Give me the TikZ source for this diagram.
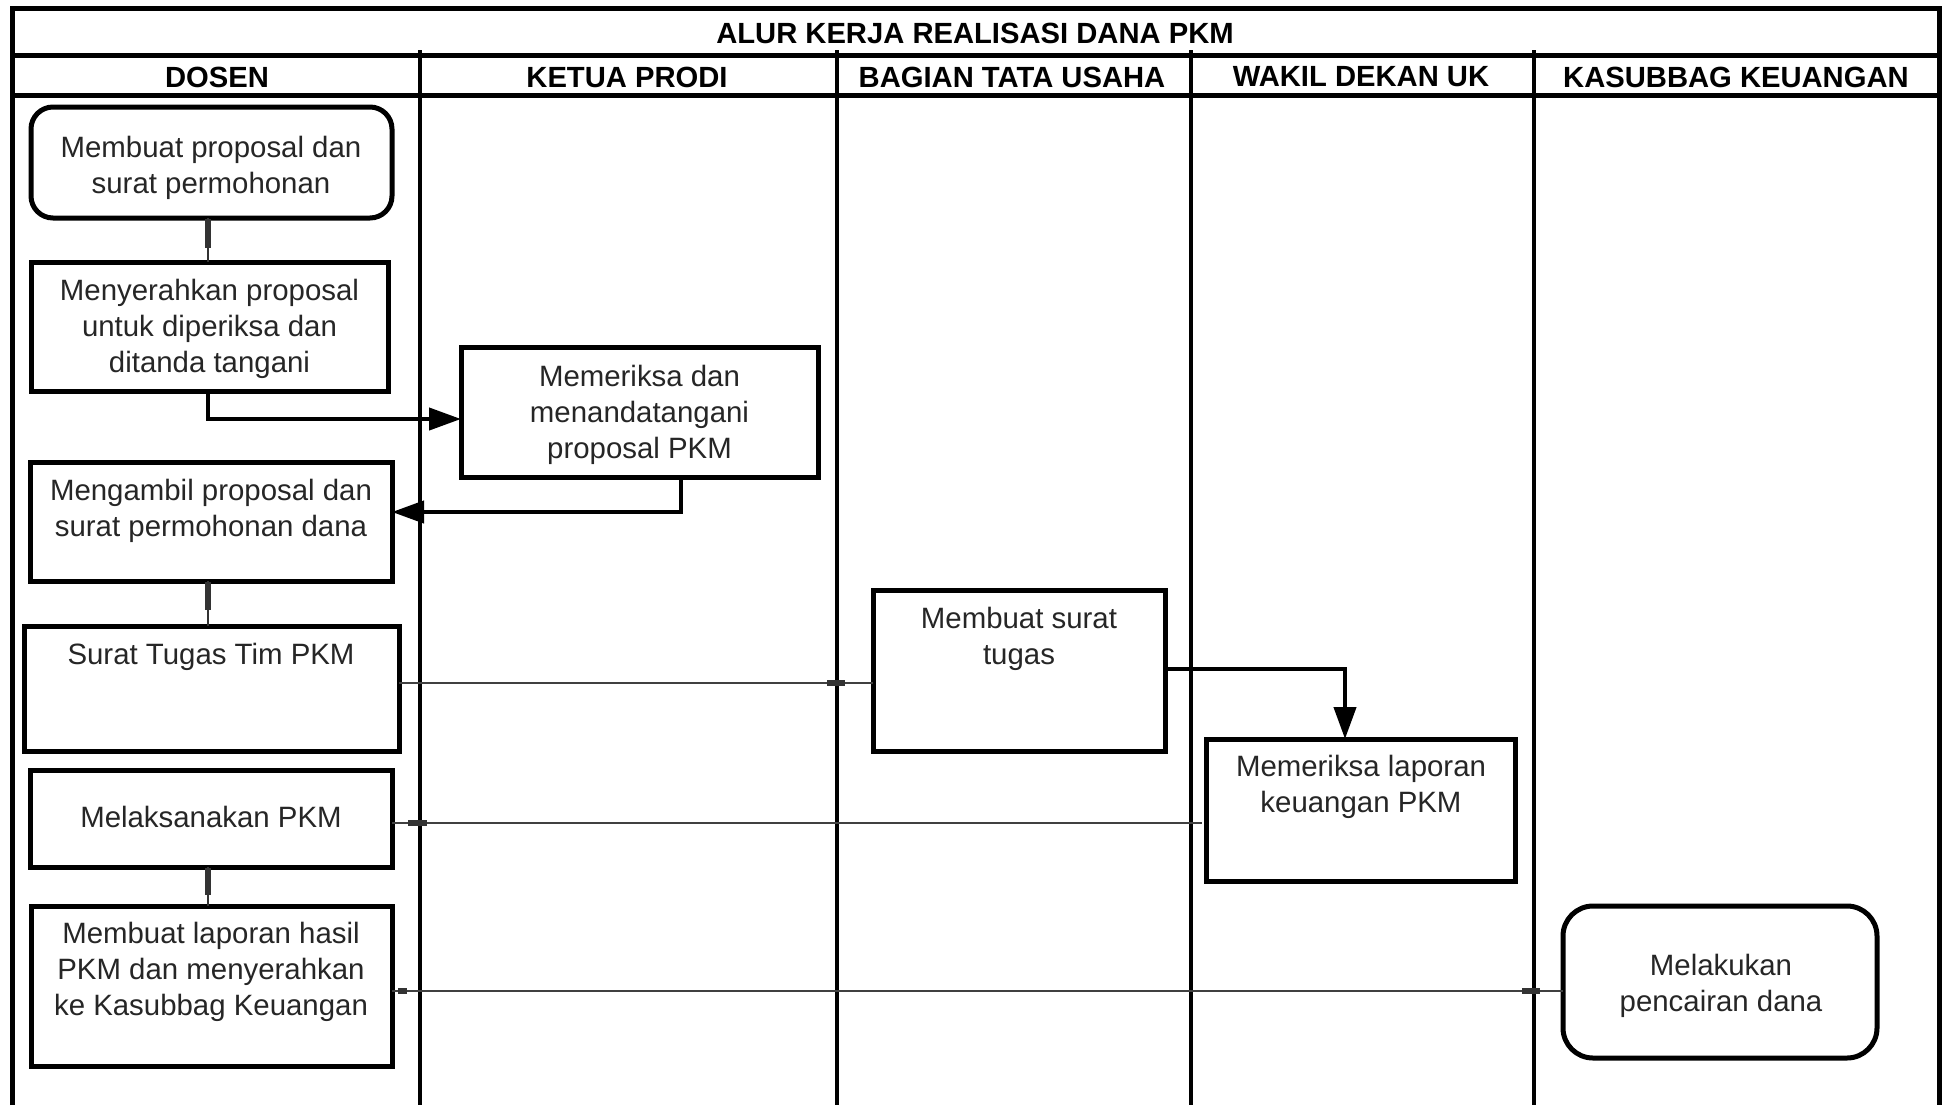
\documentclass[tikz,border=0pt]{standalone}
\usepackage{fontspec}
\setmainfont{Liberation Sans}
\usetikzlibrary{arrows.meta,fit}
\begin{document}
\begin{tikzpicture}[x=0.5pt,y=-0.5pt,
  frame/.style={line width=2.5pt, draw=black},
  lane/.style={line width=2.3pt, draw=black},
  box/.style={draw=black, line width=2.5pt, inner sep=0pt, outer sep=0pt, fill=white},
  rbox/.style={box, rounded corners=11pt},
  txt/.style={align=center, font=\fontsize{14.7}{18}\selectfont, text=black!85, inner sep=0pt},
  hdr/.style={font=\fontsize{14.6}{17}\selectfont\bfseries, inner sep=0pt},
  flow/.style={line width=2.1pt, draw=black, -{Triangle[length=16pt,width=11pt]}},
  link/.style={line width=1.3pt, draw=black!75},
  stem/.style={line width=1.4pt, draw=black!80},
  tick/.style={line width=3pt, draw=black!80}]
\useasboundingbox (0,0) rectangle (1944,1105);
\fill[white] (0,0) rectangle (1944,1105);

% frame and lanes
\draw[frame] (12,1105) -- (12,8) -- (1939,8) -- (1939,1105);
\draw[frame] (12,55) -- (1939,55);
\draw[frame] (12,95) -- (1939,95);
\foreach \x in {420,837,1191,1534} \draw[lane] (\x,50) -- (\x,1105);

% titles
\node[hdr] (title) at (975,33) {ALUR KERJA REALISASI DANA PKM};
\node[hdr] (h1) at (217,77) {DOSEN};
\node[hdr] (h2) at (627,77) {KETUA PRODI};
\node[hdr] (h3) at (1012,77) {BAGIAN TATA USAHA};
\node[hdr] (h4) at (1361,77) {WAKIL DEKAN UK};
\node[hdr] (h5) at (1736,77) {KASUBBAG KEUANGAN};

% boxes
\node[rbox, fit={(31,107) (392,218)}] (n1) {};
\node[box, fit={(31,262) (388,391)}] (n2) {};
\node[box, fit={(461,347) (818,477)}] (n3) {};
\node[box, fit={(30,462) (392,581)}] (n4) {};
\node[box, fit={(24,626) (399,751)}] (n5) {};
\node[box, fit={(873,590) (1165,751)}] (n6) {};
\node[box, fit={(1206,739) (1515,881)}] (n7) {};
\node[box, fit={(30,770) (392,867)}] (n8) {};
\node[box, fit={(31,906) (392,1066)}] (n9) {};
\node[rbox, rounded corners=15pt, fit={(1563,906) (1877,1058)}] (n10) {};

% texts
\node[txt] (t1) at (211,168) {Membuat proposal dan\\surat permohonan};
\node[txt] (t2) at (209.5,329) {Menyerahkan proposal\\untuk diperiksa dan\\ditanda tangani};
\node[txt] (t3) at (639.5,415) {Memeriksa dan\\menandatangani\\proposal PKM};
\node[txt] (t4) at (211,511) {Mengambil proposal dan\\surat permohonan dana};
\node[txt] (t5) at (211,657) {Surat Tugas Tim PKM};
\node[txt] (t6) at (1019,639) {Membuat surat\\tugas};
\node[txt] (t7) at (1361,787) {Memeriksa laporan\\keuangan PKM};
\node[txt] (t8) at (211,817) {Melaksanakan PKM};
\node[txt] (t9) at (211,972) {Membuat laporan hasil\\PKM dan menyerahkan\\ke Kasubbag Keuangan};
\node[txt] (t10) at (1721,986) {Melakukan\\pencairan dana};

% vertical stems in DOSEN lane
\draw[stem] (n1.south -| 208,0) -- (n2.north -| 208,0);
\draw[tick] (208,219) -- (208,248);
\draw[stem] (n4.south -| 208,0) -- (n5.north -| 208,0);
\draw[tick] (208,582) -- (208,610);
\draw[stem] (n8.south -| 208,0) -- (n9.north -| 208,0);
\draw[tick] (208,868) -- (208,895);

% thick flows
\draw[flow] (n2.south -| 208,0) |- ([yshift=-3.5pt]n3.west);
\draw[flow] (n3.south -| 681,0) |- ([yshift=4.75pt]n4.east);
\draw[flow] (n6.east |- 0,669) -| (n7.north -| 1345,0);

% thin links
\draw[link] (n5.east |- 0,683) -- (n6.west |- 0,683);
\draw[tick] (827,683) -- (845,683);
\draw[link] (n8.east |- 0,823) -- (1202,823);
\draw[tick] (408,823) -- (427,823);
\draw[link] (n9.east |- 0,991) -- (n10.west |- 0,991);
\draw[tick] (1522,991) -- (1540,991);
\draw[tick] (398,991) -- (407,991);
\end{tikzpicture}
\end{document}
